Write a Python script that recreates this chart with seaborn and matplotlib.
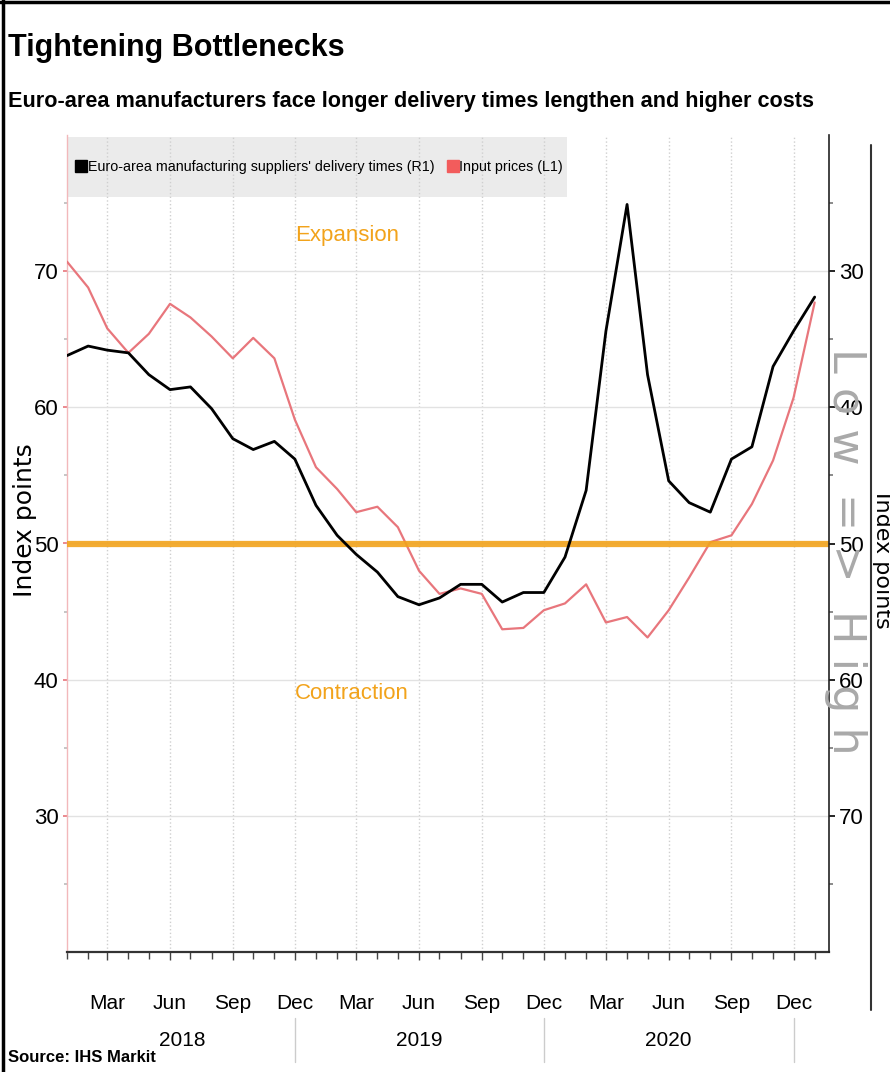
import pandas as pd
import matplotlib
matplotlib.use('Agg')
import matplotlib.pyplot as plt
import matplotlib.dates as mdates
import matplotlib.transforms as mtransforms
from matplotlib.lines import Line2D
from matplotlib.patches import Rectangle
import seaborn as sns

sns.set_style('white')
NARROW = ['Liberation Sans', 'DejaVu Sans']
WIDE = ['DejaVu Sans']
plt.rcParams['font.family'] = NARROW
plt.rcParams['text.color'] = 'black'
plt.rcParams['xtick.labelcolor'] = 'black'
plt.rcParams['ytick.labelcolor'] = 'black'

# monthly PMI readings, Jan 2018 - Jan 2021
months = pd.date_range('2018-01-01', '2021-01-01', freq='MS')
input_prices = [70.7, 68.8, 65.8, 64.0, 65.4, 67.6, 66.6, 65.2, 63.6, 65.1, 63.6, 59.1,
                55.6, 54.0, 52.3, 52.7, 51.2, 48.0, 46.3, 46.7, 46.3, 43.7, 43.8, 45.1,
                45.6, 47.0, 44.2, 44.6, 43.1, 45.1, 47.5, 50.1, 50.6, 52.9, 56.1, 60.7,
                67.7]
delivery_times = [36.2, 35.5, 35.8, 36.0, 37.6, 38.7, 38.5, 40.1, 42.3, 43.1, 42.5, 43.8,
                  47.2, 49.4, 50.8, 52.1, 53.9, 54.5, 54.0, 53.0, 53.0, 54.3, 53.6, 53.6,
                  51.0, 46.1, 34.4, 25.1, 37.6, 45.4, 47.0, 47.7, 43.8, 42.9, 37.0, 34.4,
                  31.9]
year_labels = ['2018', '2019', '2020']
year_pos = pd.to_datetime(['2018-06-19', '2019-06-01', '2020-06-01'])
year_seps = pd.to_datetime(['2018-12-01', '2019-12-01', '2020-12-01'])

RED = '#e8767c'
ORANGE = '#f2a31b'

W, H = 890, 1072
fig = plt.figure(figsize=(W / 100, H / 100), dpi=100)
ax = fig.add_axes([67 / W, 1 - 952 / H, (829 - 67) / W, (952 - 135) / H])

sns.lineplot(x=months, y=input_prices, ax=ax, color=RED, lw=1.6, zorder=3)
ax2 = ax.twinx()
sns.lineplot(x=months, y=delivery_times, ax=ax2, color='black', lw=2.0, zorder=3)
ax2.axhline(50, color=ORANGE, lw=4.5, alpha=0.9, zorder=2)

ax.set_xlim(months[0], pd.Timestamp('2021-01-22'))
ax.set_ylim(20, 80)
ax2.set_ylim(80, 20)

# left axis (input prices)
ax.set_yticks([30, 40, 50, 60, 70])
ax.set_yticks([25, 35, 45, 55, 65, 75], minor=True)
ax.tick_params(axis='y', which='both', left=True, length=3, width=1.2, color=RED,
               labelsize=16, pad=3)
ax.tick_params(axis='y', which='minor', length=2, color='#bbbbbb')
ax.set_ylabel('')

# right axis (delivery times, inverted)
ax2.set_yticks([30, 40, 50, 60, 70])
ax2.set_yticks([25, 35, 45, 55, 65, 75], minor=True)
ax2.tick_params(axis='y', which='both', right=True, length=4, width=1.2, color='black',
                labelsize=16, pad=3)
ax2.tick_params(axis='y', which='minor', length=3, color='#777777')
ax2.set_ylabel('')

# x axis
ax.xaxis.set_major_locator(mdates.MonthLocator(bymonth=[3, 6, 9, 12]))
ax.xaxis.set_major_formatter(mdates.DateFormatter('%b'))
ax.xaxis.set_minor_locator(mdates.MonthLocator())
ax.tick_params(axis='x', which='both', bottom=True, direction='out', color='#444444',
               labelsize=15, pad=24)
ax.tick_params(axis='x', which='major', length=6, width=1)
ax.tick_params(axis='x', which='minor', length=5, width=1)
ax.set_xlabel('')
ax2.set_xlabel('')

ax.grid(axis='y', which='major', color='#e2e2e2', lw=1, ls='-')
ax.grid(axis='x', which='major', color='#cfcfcf', lw=1, ls=':')
ax.set_axisbelow(True)

for a in (ax, ax2):
    a.spines['top'].set_visible(False)
ax.spines['right'].set_visible(False)
ax.spines['left'].set_color('#f2b8bb')
ax.spines['left'].set_linewidth(1)
ax.spines['bottom'].set_color('#333333')
ax.spines['bottom'].set_linewidth(1.6)
ax2.spines['left'].set_visible(False)
ax2.spines['bottom'].set_visible(False)
ax2.spines['right'].set_color('#222222')
ax2.spines['right'].set_linewidth(1.2)

# legend strip
ax.add_patch(Rectangle((0, 0.924), (567 - 67) / 762, 0.074, transform=ax.transAxes,
                       facecolor='#ebebeb', edgecolor='none', zorder=0))
handles = [Line2D([], [], marker='s', ls='none', color='black', ms=8),
           Line2D([], [], marker='s', ls='none', color='#f25c5c', ms=8)]
ax2.legend(handles, ["Euro-area manufacturing suppliers' delivery times (R1)", 'Input prices (L1)'],
           loc='center left', bbox_to_anchor=(0.0, 0.961), ncol=2, frameon=False,
           fontsize=10.3, handletextpad=0.05, columnspacing=0.9, borderaxespad=0.2,
           handlelength=0.8)

ax.text(pd.Timestamp('2018-12-01'), 72.6, 'Expansion', color=ORANGE, fontsize=16,
        va='center', ha='left')
ax.text(pd.Timestamp('2018-12-01'), 39.0, 'Contraction', color=ORANGE, fontsize=16,
        va='center', ha='left')

# years below month labels
bt = mtransforms.blended_transform_factory(ax.transData, fig.transFigure)
for lab, pos in zip(year_labels, year_pos):
    ax.text(pos, 1 - 1040 / H, lab, transform=bt, ha='center', va='center', fontsize=15)
for pos in year_seps:
    ax.add_line(Line2D([pos, pos], [1 - 1018 / H, 1 - 1062 / H], transform=bt,
                       color='#cccccc', lw=1, clip_on=False))

ax2.text(1.022, 0.49, 'L o w  = >  H i g h', transform=ax.transAxes, rotation=-90,
         color='#a9a9a9', fontsize=32, family=WIDE, ha='center', va='center', zorder=5)

fig.text(25 / W, 1 - 520 / H, 'Index points', rotation=90, fontsize=18, family=WIDE,
         ha='center', va='center')
fig.text(882 / W, 1 - 560 / H, 'Index points', rotation=-90, fontsize=16, family=WIDE,
         ha='center', va='center')

fig.text(8 / W, 1 - 48 / H, 'Tightening Bottlenecks', fontsize=22, fontweight='bold',
         va='center', ha='left')
fig.text(8 / W, 1 - 101 / H,
         'Euro-area manufacturers face longer delivery times lengthen and higher costs',
         fontsize=15.6, fontweight='bold', va='center', ha='left')
fig.text(8 / W, 1 - 1057 / H, 'Source: IHS Markit', fontsize=12, fontweight='bold',
         va='center', ha='left')

# frame lines of the original graphic
fig.add_artist(Line2D([3 / W, 3 / W], [0, 1], transform=fig.transFigure, color='black', lw=2.5))
fig.add_artist(Line2D([0, 1], [1 - 2 / H, 1 - 2 / H], transform=fig.transFigure, color='black', lw=2.5))
fig.add_artist(Line2D([871 / W, 871 / W], [1 - 145 / H, 1 - 1010 / H],
                      transform=fig.transFigure, color='#333333', lw=1.5))

fig.savefig('out.png', dpi=100)
